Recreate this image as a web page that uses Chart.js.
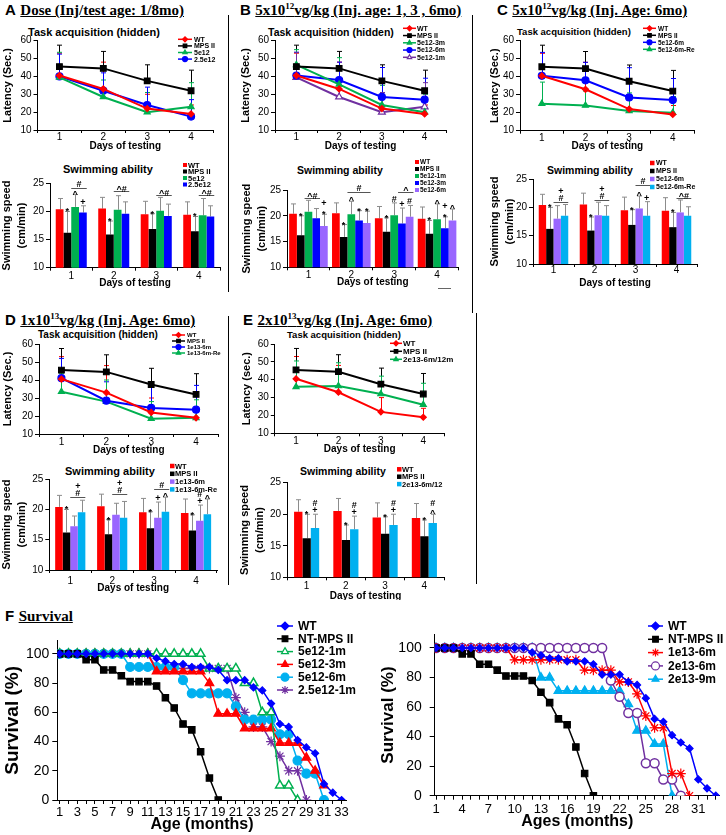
<!DOCTYPE html>
<html>
<head>
<meta charset="utf-8">
<title>MPS II gene therapy: water maze and survival</title>
<script src="https://cdn.jsdelivr.net/npm/chart.js@4.4.1/dist/chart.umd.min.js"></script>
<style>
  body { margin: 0; background: #fff; }
  #page { position: relative; width: 726px; height: 835px; overflow: hidden; font-family: "Liberation Sans", Arial, sans-serif; }
  canvas { position: absolute; }
  .pt { position: absolute; white-space: nowrap; font-weight: bold; line-height: 1; }
  .pt b { font-family: "Liberation Sans", Arial, sans-serif; font-size: 15px; }
  .pt u { font-family: "Liberation Serif", "Times New Roman", serif; font-size: 15px; }
  .pt sup { font-size: 9px; vertical-align: 6px; line-height: 0; }
  .ct { position: absolute; white-space: nowrap; font-weight: bold; line-height: 1; transform: translateY(-50%); }
  .rule { position: absolute; background: #000; }
</style>
</head>
<body>
<div id="page">
  <div class="pt" style="left:5px;top:2px"><b>A</b> <u>Dose (Inj/test age: 1/8mo)</u></div>
  <div class="pt" style="left:240px;top:2px"><b>B</b> <u>5x10<sup>12</sup>vg/kg (Inj. age: 1, 3 , 6mo)</u></div>
  <div class="pt" style="left:497px;top:2px"><b>C</b> <u>5x10<sup>12</sup>vg/kg (Inj. Age: 6mo)</u></div>
  <div class="pt" style="left:5px;top:312px"><b>D</b> <u>1x10<sup>13</sup>vg/kg (Inj. Age: 6mo)</u></div>
  <div class="pt" style="left:243px;top:312px"><b>E</b> <u>2x10<sup>13</sup>vg/kg (Inj. Age: 6mo)</u></div>
  <div class="pt" style="left:5px;top:608px"><b>F</b> <u>Survival</u></div>

  <div class="ct" style="left:28px;top:32px;font-size:11px">Task acquisition (hidden)</div>
  <div class="ct" style="left:268px;top:32px;font-size:10.5px">Task acquisition (hidden)</div>
  <div class="ct" style="left:517px;top:32px;font-size:9.5px">Task acquisition (hidden)</div>
  <div class="ct" style="left:38px;top:335px;font-size:10px">Task acquisition (hidden)</div>
  <div class="ct" style="left:287px;top:335px;font-size:9.5px">Task acquisition (hidden)</div>
  <div class="ct" style="left:63px;top:169px;font-size:11px">Swimming ability</div>
  <div class="ct" style="left:297px;top:170px;font-size:10.5px">Swimming ability</div>
  <div class="ct" style="left:547px;top:170px;font-size:10.5px">Swimming ability</div>
  <div class="ct" style="left:65px;top:471px;font-size:11px">Swimming ability</div>
  <div class="ct" style="left:300px;top:471px;font-size:10.5px">Swimming ability</div>

  <div class="rule" style="left:228px;top:15px;width:1px;height:277px"></div>
  <div class="rule" style="left:228px;top:316px;width:1px;height:269px"></div>
  <div class="rule" style="left:472px;top:15px;width:1px;height:298px"></div>
  <div class="rule" style="left:476px;top:313px;width:1px;height:271px"></div>
  <div class="rule" style="left:438px;top:288px;width:13px;height:1px;background:#666"></div>

  <canvas id="latA"></canvas>
  <canvas id="latB"></canvas>
  <canvas id="latC"></canvas>
  <canvas id="latD"></canvas>
  <canvas id="latE"></canvas>
  <canvas id="swimA"></canvas>
  <canvas id="swimB"></canvas>
  <canvas id="swimC"></canvas>
  <canvas id="swimD"></canvas>
  <canvas id="swimE"></canvas>
  <canvas id="survLeft"></canvas>
  <canvas id="survRight"></canvas>
</div>
<script>
const days = ['1', '2', '3', '4'];

// LATENCY (sec): mean and SD per testing day
const wtLat = [40.5, 33, 22, 19];
const wtLatSd = [12.5, 15, 8, 5];
const mpsLat = [45.5, 44.5, 37.5, 32];
const mpsLatSd = [12, 9.5, 9, 11.5];
const lat5e12_1m = [39.5, 28.5, 20, 23];
const lat5e12_1mSd = [14, 9.5, 11, 13.5];
const lat25e12_1m = [40, 32, 24, 17.5];
const lat25e12_1mSd = [12.5, 10, 10, 9.5];
const lat5e12_3m = [46.5, 35.5, 24, 20];
const lat5e12_3mSd = [8.5, 15, 11, 10];
const lat5e12_6m = [40.5, 38, 28.5, 27];
const lat5e12_6mSd = [13, 10, 16.5, 12];
const lat5e12_6mRe = [25, 24, 21, 20];
const lat5e12_6mReSd = [12, 8, 10, 9];
const lat1e13_6m = [41, 28.5, 24.5, 23.5];
const lat1e13_6mSd = [11, 10.5, 11.5, 13.5];
const lat1e13_6mRe = [33.5, 28, 18.5, 19];
const lat1e13_6mReSd = [10, 12, 9.5, 10];
const lat2e13 = [36, 36.5, 32, 26];
const lat2e13Sd = [14.5, 13, 10, 12];

// SWIMMING SPEED (cm/min): mean and SD
const wtSwim = [20.4, 20.5, 19.5, 19.4];
const wtSwimSd = [1.9, 2, 2.3, 2.3];
const mpsSwim = [16.2, 15.9, 16.9, 16.5];
const mpsSwimSd = [3.8, 2.4, 2.7, 2.6];
const swim5e12_1m = [20.8, 20.3, 20.1, 19.3];
const swim5e12_1mSd = [2.2, 2.5, 2.4, 3];
const swim25e12_1m = [19.8, 19.6, 19.2, 19.1];
const swim25e12_1mSd = [1.2, 2.1, 2.1, 1.9];
const swim5e12_3m = [19.5, 19.1, 18.5, 17.6];
const swim5e12_3mSd = [1.9, 1.9, 3, 2.2];
const swim5e12_6m = [18, 18.6, 19.8, 19.1];
const swim5e12_6mSd = [2.3, 2.3, 2.2, 2.2];
const swim5e12_6mRe = [18.5, 18.5, 18.5, 18.5];
const swim5e12_6mReSd = [2, 1.8, 2.5, 1.6];
const swim1e13_6m = [17.2, 19.1, 18.6, 18.1];
const swim1e13_6mSd = [1.7, 1.9, 2.6, 2.6];
const swim1e13_6mRe = [19.5, 18.6, 19.6, 19.2];
const swim1e13_6mReSd = [2, 2.7, 2.4, 2.5];
const swim2e13 = [17.8, 17.6, 18.3, 18.6];
const swim2e13Sd = [2.2, 2.1, 1.7, 1.4];

// significance symbols: [dataset, day, symbols...] and brackets [from, to, day, value, symbols...]
const sigA = [[1, 0, '*'], [1, 1, '*'], [1, 2, '*'], [1, 3, '*'], [2, 0, '^'], [3, 0, '+']];
const brkA = [[2, 3, 0, 24.2, '#'], [2, 3, 1, 23.6, '^#'], [2, 3, 2, 22.9, '^#'], [2, 3, 3, 22.9, '^#']];
const sigB = [[1, 0, '*'], [1, 1, '*'], [1, 2, '*'], [1, 3, '*'], [4, 0, '*', '+'], [2, 1, '^'], [3, 1, '*'], [4, 1, '*'],
  [2, 2, '#'], [3, 2, '+'], [4, 2, '#'], [2, 3, '^'], [3, 3, '*', '+'], [4, 3, '^']];
const brkB = [[2, 3, 0, 23.4, '^#'], [2, 4, 1, 24.6, '#'], [3, 4, 2, 24.6, '^']];
const sigC = [[1, 0, '*'], [1, 1, '*'], [1, 2, '*'], [1, 3, '*'], [2, 2, '^'], [3, 2, '+']];
const brkC = [[2, 3, 0, 20.9, '#', '+'], [2, 3, 1, 21.3, '#', '+'], [2, 3, 2, 23.9, '#'], [2, 3, 3, 21.6, '^#']];
const sigD = [[1, 0, '*'], [1, 1, '*'], [1, 2, '*'], [1, 3, '*'], [2, 2, '+'], [3, 2, '^'], [2, 3, '+', '#'], [3, 3, '^']];
const brkD = [[2, 3, 0, 22, '#', '+'], [2, 3, 1, 22.6, '#', '+'], [2, 3, 2, 23.4, '#']];
const sigE = [[1, 0, '*'], [1, 1, '*'], [1, 2, '*'], [1, 3, '*'], [2, 0, '+', '#'], [2, 1, '+', '#'], [2, 2, '+', '#'], [2, 3, '^', '#']];

// SURVIVAL (%), one value per month starting at month 1
const survWT = [100, 100, 100, 100, 100, 100, 100, 100, 100, 100, 100, 97, 95, 93, 93, 91, 91, 91, 89, 82, 82, 82, 77, 75, 66, 52, 50, 41, 36, 32, 11, 5, 0];
const survMPS = [100, 100, 100, 96, 96, 89, 89, 85, 81, 81, 81, 78, 70, 63, 52, 48, 33, 15, 0];
const surv5e12_1m = [100, 100, 100, 100, 100, 100, 100, 100, 100, 100, 100, 100, 100, 100, 100, 100, 100, 90, 90, 90, 90, 80, 80, 60, 60, 10, 10, 0];
const surv5e12_3m = [100, 100, 100, 100, 100, 100, 100, 100, 100, 100, 100, 88, 88, 88, 88, 88, 88, 80, 59, 59, 59, 49, 49, 49, 49, 39, 39, 39, 29, 20, 10];
const surv5e12_6m = [100, 100, 100, 100, 100, 100, 100, 100, 91, 91, 91, 91, 91, 91, 82, 73, 73, 73, 73, 73, 64, 55, 55, 55, 55, 45, 45, 27, 18, 18, 0];
const surv25e12_1m = [100, 100, 100, 100, 100, 100, 100, 100, 100, 100, 100, 90, 90, 90, 90, 90, 90, 90, 90, 90, 70, 60, 50, 50, 40, 30, 20, 20, 0];
const surv1e13_6m = [100, 100, 100, 100, 100, 100, 100, 100, 100, 92, 92, 92, 92, 92, 92, 92, 92, 85, 85, 85, 85, 77, 77, 69, 54, 46, 46, 15, 15, 0];
const surv2e13_6m = [100, 100, 100, 100, 100, 100, 100, 100, 100, 100, 100, 100, 100, 100, 100, 100, 100, 100, 100, 100, 78, 67, 56, 56, 22, 22, 11, 11, 0];
const surv2e13_9m = [100, 100, 100, 100, 100, 100, 100, 100, 100, 100, 100, 100, 80, 80, 71, 71, 71, 71, 71, 71, 71, 71, 62, 44, 44, 35, 35, 0];

const survTicks = [0, 20, 40, 60, 80, 100];
const leftAgeLabels = [1, 3, 5, 7, 9, 11, 13, 15, 17, 19, 21, 23, 25, 27, 29, 31, 33];
const rightAgeLabels = [1, 4, 7, 10, 13, 16, 19, 22, 25, 28, 31];
const ageMonths = Array.from({ length: 33 }, (_, i) => i + 1);

const RED = '#ff0000', BLACK = '#000000', GREEN = '#00b050', BLUE = '#0000ff';
const PURPLE = '#7030a0', LILAC = '#9966ff', CYAN = '#00b0f0';

Chart.defaults.font.family = '"Liberation Sans", Arial, sans-serif';
Chart.defaults.color = '#000';
Chart.defaults.animation = false;
Chart.defaults.plugins.legend.display = false;
Chart.defaults.plugins.tooltip.enabled = false;

function place(cv, b) {
  cv.style.left = b.x + 'px';
  cv.style.top = b.y + 'px';
  cv.width = b.w;
  cv.height = b.h;
  cv.style.width = b.w + 'px';
  cv.style.height = b.h + 'px';
}

function drawMark(ctx, style, r, x, y, fill, stroke) {
  ctx.save();
  ctx.fillStyle = fill;
  ctx.strokeStyle = stroke;
  ctx.lineWidth = 1.2;
  if (Chart.helpers && Chart.helpers.drawPoint) {
    Chart.helpers.drawPoint(ctx, { pointStyle: style, radius: r, borderWidth: 1.2, rotation: 0 }, x, y);
  } else {
    ctx.beginPath();
    ctx.arc(x, y, r, 0, 2 * Math.PI);
    ctx.fill();
    ctx.stroke();
  }
  ctx.restore();
}

// error bars (upward only), drawn under the marks
const errBars = {
  id: 'errBars',
  beforeDatasetsDraw(chart) {
    const ctx = chart.ctx, ys = chart.scales.y;
    chart.data.datasets.forEach((ds, i) => {
      if (!ds.err) return;
      const meta = chart.getDatasetMeta(i);
      ctx.save();
      ctx.strokeStyle = ds.errColor;
      ctx.lineWidth = 1;
      meta.data.forEach((el, j) => {
        const top = ys.getPixelForValue(ds.data[j] + ds.err[j]);
        const x = Math.round(el.x) + 0.5;
        ctx.beginPath();
        ctx.moveTo(x, el.y);
        ctx.lineTo(x, top);
        ctx.moveTo(x - 2.5, top);
        ctx.lineTo(x + 2.5, top);
        ctx.stroke();
      });
      ctx.restore();
    });
  }
};

// legend drawn inside the plot, one row per dataset
function keyPlugin(k, box) {
  return {
    id: 'key',
    afterDraw(chart) {
      const ctx = chart.ctx;
      ctx.save();
      ctx.font = 'bold ' + k.size + 'px "Liberation Sans", Arial, sans-serif';
      ctx.textBaseline = 'middle';
      ctx.textAlign = 'left';
      chart.data.datasets.forEach((ds, i) => {
        const y = k.y - box.y + i * k.dy;
        const x = k.x - box.x;
        if (k.sq) {
          ctx.fillStyle = ds.backgroundColor;
          ctx.fillRect(x, y - k.sq / 2, k.sq, k.sq);
        } else {
          ctx.strokeStyle = ds.borderColor;
          ctx.lineWidth = k.lw || 1.5;
          ctx.beginPath();
          ctx.moveTo(x, y);
          ctx.lineTo(x + k.len, y);
          ctx.stroke();
          drawMark(ctx, ds.pointStyle, k.r, x + k.len / 2, y, ds.pointBackgroundColor, ds.borderColor);
        }
        ctx.fillStyle = '#000';
        ctx.fillText(ds.label, k.tx - box.x, y + 0.5);
      });
      ctx.restore();
    }
  };
}

// significance symbols above the bars
function sigPlugin(marks, brackets) {
  const shift = { '*': 4, '^': 3 };
  return {
    id: 'sig',
    afterDatasetsDraw(chart) {
      const ctx = chart.ctx, ys = chart.scales.y;
      ctx.save();
      ctx.font = 'bold 9px "Liberation Sans", Arial, sans-serif';
      ctx.textAlign = 'center';
      ctx.textBaseline = 'alphabetic';
      ctx.fillStyle = '#000';
      marks.forEach(m => {
        const ds = chart.data.datasets[m[0]];
        const el = chart.getDatasetMeta(m[0]).data[m[1]];
        let y = ys.getPixelForValue(ds.data[m[1]] + ds.err[m[1]]) - 1;
        m.slice(2).forEach(t => {
          ctx.fillText(t, el.x, y + (shift[t] || 0));
          y -= 7;
        });
      });
      ctx.strokeStyle = '#555';
      ctx.lineWidth = 1;
      brackets.forEach(b => {
        const e1 = chart.getDatasetMeta(b[0]).data[b[2]];
        const e2 = chart.getDatasetMeta(b[1]).data[b[2]];
        const x1 = e1.x - e1.width / 2, x2 = e2.x + e2.width / 2;
        const y = Math.round(ys.getPixelForValue(b[3])) + 0.5;
        ctx.beginPath();
        ctx.moveTo(x1, y);
        ctx.lineTo(x2, y);
        ctx.stroke();
        let ty = y - 1.5;
        b.slice(4).forEach(t => {
          ctx.fillText(t, (x1 + x2) / 2, ty + (t[0] === '^' ? 2 : 0));
          ty -= 7;
        });
      });
      ctx.restore();
    }
  };
}

// shared axis geometry: fixed scale sizes so the plot area lands where wanted
function axes(box, area, o) {
  const tl = o.tl || 3;
  const xlh = o.xTickSize * 1.2;
  const tlh = o.xTitleSize * 1.2;
  const ylh = o.yTitleSize * (o.yTitleLH || 1.2);
  return {
    layout: { padding: { left: 0, top: area.t - box.y, right: box.x + box.w - area.r, bottom: 0 } },
    x: {
      grid: { drawOnChartArea: false, tickLength: tl, color: '#000', offset: !!o.gridOffset },
      border: { color: '#000', width: 1 },
      ticks: { font: { size: o.xTickSize }, padding: o.tickY - area.b - tl - xlh / 2, maxRotation: 0, autoSkip: false, color: '#000' },
      title: {
        display: true, text: o.xTitle, color: '#000',
        font: { size: o.xTitleSize, weight: 'bold' },
        padding: { top: 0, bottom: box.y + box.h - o.xTitleY - tlh / 2 }
      },
      afterFit: s => { s.height = box.y + box.h - area.b; }
    },
    y: {
      grid: { drawOnChartArea: false, tickLength: o.ytl || 4, color: '#000' },
      border: { color: '#000', width: 1 },
      ticks: { font: { size: o.yTickSize }, padding: o.yTickPad, color: '#000' },
      title: {
        display: true, text: o.yTitle, color: '#000',
        font: { size: o.yTitleSize, weight: 'bold', lineHeight: o.yTitleLH || 1.2 },
        padding: { top: o.yTitleX - box.x - ylh / 2, bottom: 0 }
      },
      afterFit: s => { s.width = area.l - box.x; }
    }
  };
}

function latencyChart(id, box, area, o, series, key) {
  const cv = document.getElementById(id);
  place(cv, box);
  const ax = axes(box, area, Object.assign({
    xTitle: 'Days of testing', xTickSize: 10, xTitleSize: 10, yTickSize: 10, yTickPad: 2,
    yTitleSize: 11, gridOffset: true
  }, o));
  ax.x.offset = true;
  ax.y.min = 10;
  ax.y.max = 60;
  ax.y.ticks.stepSize = 10;
  new Chart(cv, {
    type: 'line',
    data: {
      labels: days,
      datasets: series.map(s => ({
        label: s.label, data: s.data, err: s.err, errColor: s.color,
        borderColor: s.color, backgroundColor: s.color, borderWidth: 2,
        pointStyle: s.style, pointRadius: s.r,
        pointBackgroundColor: s.open ? '#fff' : s.color, pointBorderColor: s.color, pointBorderWidth: 1.2
      }))
    },
    options: { responsive: false, events: [], layout: ax.layout, scales: { x: ax.x, y: ax.y } },
    plugins: [errBars, keyPlugin(Object.assign({ len: 13, r: 2.5 }, key), box)]
  });
}

function swimChart(id, box, area, o, series, key, marks, brackets) {
  const cv = document.getElementById(id);
  place(cv, box);
  const ax = axes(box, area, Object.assign({
    xTitle: 'Days of testing', xTickSize: 10, xTitleSize: 10, yTickSize: 10, yTickPad: 2,
    yTitle: ['Swimming speed', '(cm/min)'], yTitleSize: 11, yTitleLH: 1.36, gridOffset: true
  }, o));
  ax.x.offset = true;
  ax.y.min = 10;
  ax.y.max = 25;
  ax.y.ticks.stepSize = 5;
  new Chart(cv, {
    type: 'bar',
    data: {
      labels: days,
      datasets: series.map(s => ({
        label: s.label, data: s.data, err: s.err, errColor: '#8c8c8c',
        backgroundColor: s.color, barPercentage: 1, categoryPercentage: o.cp
      }))
    },
    options: { responsive: false, events: [], layout: ax.layout, scales: { x: ax.x, y: ax.y } },
    plugins: [errBars, sigPlugin(marks, brackets), keyPlugin(Object.assign({ sq: 4.5 }, key), box)]
  });
}

function survivalChart(id, box, area, o, series, key) {
  const cv = document.getElementById(id);
  place(cv, box);
  const ax = axes(box, area, Object.assign({
    tl: 4, ytl: 5, xTickSize: 13, xTitleSize: 16, yTickSize: 14, yTitle: 'Survival (%)'
  }, o));
  ax.x.type = 'linear';
  ax.x.min = o.min;
  ax.x.max = o.max;
  ax.x.afterBuildTicks = s => { s.ticks = ageMonths.map(v => ({ value: v })); };
  ax.x.ticks.callback = v => (o.labels.includes(v) ? String(v) : '');
  ax.y.min = 0;
  ax.y.max = o.ymax;
  ax.y.afterBuildTicks = s => { s.ticks = survTicks.map(v => ({ value: v })); };
  new Chart(cv, {
    type: 'line',
    data: {
      datasets: series.map(s => ({
        label: s.label, data: s.data.map((v, i) => ({ x: i + 1, y: v })),
        borderColor: s.color, backgroundColor: s.color, borderWidth: 1.5,
        pointStyle: s.style, pointRadius: s.r,
        pointBackgroundColor: s.open ? '#fff' : s.color, pointBorderColor: s.color,
        pointBorderWidth: s.open ? 1.5 : 1.2
      }))
    },
    options: { responsive: false, events: [], layout: ax.layout, scales: { x: ax.x, y: ax.y } },
    plugins: [keyPlugin(Object.assign({ len: 16, r: 4, size: 12, lw: 1.5 }, key), box)]
  });
}

// ROW 1 / ROW 2: task acquisition
const wtLine = { label: 'WT', data: wtLat, err: wtLatSd, color: RED, style: 'rectRot', r: 3 };
const mpsLine = { label: 'MPS II', data: mpsLat, err: mpsLatSd, color: BLACK, style: 'rect', r: 4 };

latencyChart('latA', { x: 0, y: 20, w: 226, h: 136 }, { l: 37.5, t: 40.7, r: 213, b: 130 },
  { tickY: 137.3, xTitleY: 146.7, yTitleX: 8, yTitle: 'Latency (Sec.)' },
  [wtLine, mpsLine,
    { label: '5e12', data: lat5e12_1m, err: lat5e12_1mSd, color: GREEN, style: 'triangle', r: 3.5 },
    { label: '2.5e12', data: lat25e12_1m, err: lat25e12_1mSd, color: BLUE, style: 'circle', r: 3.5 }],
  { x: 178, y: 39.3, dy: 6.6, len: 14, tx: 194, size: 7 });

latencyChart('latB', { x: 240, y: 20, w: 230, h: 136 }, { l: 275, t: 40.7, r: 446, b: 130 },
  { tickY: 137.3, xTitleY: 146.7, yTitleX: 246, yTitle: 'Latency (Sec.)' },
  [wtLine, mpsLine,
    { label: '5e12-3m', data: lat5e12_3m, err: lat5e12_3mSd, color: GREEN, style: 'triangle', r: 3.5 },
    { label: '5e12-6m', data: lat5e12_6m, err: lat5e12_6mSd, color: BLUE, style: 'circle', r: 3.5 },
    { label: '5e12-1m', data: lat5e12_1m, err: lat5e12_1mSd, color: PURPLE, style: 'triangle', r: 4, open: true }],
  { x: 403, y: 28.3, dy: 7.25, tx: 417, size: 7 });

latencyChart('latC', { x: 478, y: 20, w: 246, h: 136 }, { l: 520, t: 40.7, r: 694.6, b: 130.7 },
  { tickY: 138, xTitleY: 146.7, yTitleX: 495, yTitle: 'Latency (Sec.)' },
  [wtLine, mpsLine,
    { label: '5e12-6m', data: lat5e12_6m, err: lat5e12_6mSd, color: BLUE, style: 'circle', r: 3.5 },
    { label: '5e12-6m-Re', data: lat5e12_6mRe, err: lat5e12_6mReSd, color: GREEN, style: 'triangle', r: 3.5 }],
  { x: 643, y: 28.3, dy: 7, tx: 658, size: 6.5 });

latencyChart('latD', { x: 0, y: 325, w: 226, h: 133 }, { l: 39, t: 344, r: 218.5, b: 434 },
  { tickY: 442.3, xTitleY: 450, yTitleX: 8, yTitle: 'Latency (Sec.)' },
  [wtLine, mpsLine,
    { label: '1e13-6m', data: lat1e13_6m, err: lat1e13_6mSd, color: BLUE, style: 'circle', r: 3.5 },
    { label: '1e13-6m-Re', data: lat1e13_6mRe, err: lat1e13_6mReSd, color: GREEN, style: 'triangle', r: 3.5 }],
  { x: 172, y: 335, dy: 6, tx: 187, size: 6 });

latencyChart('latE', { x: 240, y: 325, w: 232, h: 133 }, { l: 274.8, t: 344, r: 444.5, b: 433.3 },
  { tickY: 441.7, xTitleY: 449.3, yTitleX: 247, yTitle: 'Latency (sec.)' },
  [wtLine, mpsLine,
    { label: '2e13-6m/12m', data: lat2e13, err: lat2e13Sd, color: GREEN, style: 'triangle', r: 3.5 }],
  { x: 390, y: 343.3, dy: 8, len: 12, tx: 403, size: 8 });

// swimming ability
const wtBar = { label: 'WT', data: wtSwim, err: wtSwimSd, color: RED };
const mpsBar = { label: 'MPS II', data: mpsSwim, err: mpsSwimSd, color: BLACK };

swimChart('swimA', { x: 0, y: 160, w: 226, h: 130 }, { l: 50, t: 183.3, r: 220, b: 267.7 },
  { tickY: 276.7, xTitleY: 283.3, yTitleX: 7, cp: 0.73 },
  [wtBar, mpsBar,
    { label: '5e12', data: swim5e12_1m, err: swim5e12_1mSd, color: GREEN },
    { label: '2.5e12', data: swim25e12_1m, err: swim25e12_1mSd, color: BLUE }],
  { x: 183, y: 165, dy: 6.5, tx: 188, size: 7.5, sq: 4 }, sigA, brkA);

swimChart('swimB', { x: 240, y: 158, w: 228, h: 132 }, { l: 287, t: 190, r: 458.5, b: 267.3 },
  { tickY: 275, xTitleY: 282.7, yTitleX: 247, cp: 0.9 },
  [wtBar, mpsBar,
    { label: '5e12-1m', data: swim5e12_1m, err: swim5e12_1mSd, color: GREEN },
    { label: '5e12-3m', data: swim5e12_3m, err: swim5e12_3mSd, color: BLUE },
    { label: '5e12-6m', data: swim5e12_6m, err: swim5e12_6mSd, color: LILAC }],
  { x: 415, y: 162, dy: 7, tx: 420, size: 6.5, sq: 4 }, sigB, brkB);

swimChart('swimC', { x: 480, y: 158, w: 244, h: 132 }, { l: 533, t: 179, r: 697, b: 264 },
  { tickY: 270.5, xTitleY: 283.3, yTitleX: 495, cp: 0.72 },
  [wtBar, mpsBar,
    { label: '5e12-6m', data: swim5e12_6m, err: swim5e12_6mSd, color: LILAC },
    { label: '5e12-6m-Re', data: swim5e12_6mRe, err: swim5e12_6mReSd, color: CYAN }],
  { x: 650, y: 163, dy: 8, tx: 656, size: 7, sq: 4.5 }, sigC, brkC);

swimChart('swimD', { x: 0, y: 460, w: 226, h: 134 }, { l: 49.3, t: 479, r: 217, b: 570 },
  { tickY: 581, xTitleY: 588.3, yTitleX: 7, cp: 0.72 },
  [wtBar, mpsBar,
    { label: '1e13-6m', data: swim1e13_6m, err: swim1e13_6mSd, color: LILAC },
    { label: '1e13-6m-Re', data: swim1e13_6mRe, err: swim1e13_6mReSd, color: CYAN }],
  { x: 170, y: 466, dy: 7.8, tx: 175, size: 7.5, sq: 4.5 }, sigD, brkD);

swimChart('swimE', { x: 240, y: 460, w: 232, h: 140 }, { l: 287, t: 482.7, r: 444, b: 577.3 },
  { tickY: 586.7, xTitleY: 596, yTitleX: 245, cp: 0.64 },
  [wtBar, mpsBar,
    { label: '2e13-6m/12', data: swim2e13, err: swim2e13Sd, color: CYAN }],
  { x: 397, y: 469.3, dy: 7.4, tx: 402, size: 7.5, sq: 4.5 }, sigE, []);

// F: survival
const wtSurvLine = { label: 'WT', data: survWT, color: BLUE, style: 'rectRot', r: 3.5 };
const mpsSurvLine = { label: 'NT-MPS II', data: survMPS, color: BLACK, style: 'rect', r: 4.5 };

survivalChart('survLeft', { x: 0, y: 618, w: 362, h: 217 }, { l: 57.3, t: 640.7, r: 346.7, b: 800 },
  { min: 0.73, max: 33.58, ymax: 109, labels: leftAgeLabels, tickY: 812.7, xTitleY: 825, yTitleX: 13,
    yTitleSize: 19, yTickPad: 3, xTitle: 'Age (months)' },
  [wtSurvLine, mpsSurvLine,
    { label: '5e12-1m', data: surv5e12_1m, color: GREEN, style: 'triangle', r: 5, open: true },
    { label: '5e12-3m', data: surv5e12_3m, color: RED, style: 'triangle', r: 5 },
    { label: '5e12-6m', data: surv5e12_6m, color: CYAN, style: 'circle', r: 4.5 },
    { label: '2.5e12-1m', data: surv25e12_1m, color: PURPLE, style: 'star', r: 5 }],
  { x: 277, y: 626, dy: 12.8, tx: 298 });

survivalChart('survRight', { x: 365, y: 618, w: 361, h: 217 }, { l: 434.7, t: 630, r: 722, b: 795.7 },
  { min: 0.85, max: 33.46, ymax: 109.2, labels: rightAgeLabels, tickY: 809, xTitleY: 821.7, yTitleX: 388,
    yTitleSize: 17, yTickPad: 8, xTitle: 'Ages (months)' },
  [wtSurvLine, mpsSurvLine,
    { label: '1e13-6m', data: surv1e13_6m, color: RED, style: 'star', r: 5 },
    { label: '2e13-6m', data: surv2e13_6m, color: PURPLE, style: 'circle', r: 4.5, open: true },
    { label: '2e13-9m', data: surv2e13_9m, color: CYAN, style: 'triangle', r: 5 }],
  { x: 648, y: 626, dy: 13.3, len: 15, tx: 668 });
</script>
</body>
</html>
